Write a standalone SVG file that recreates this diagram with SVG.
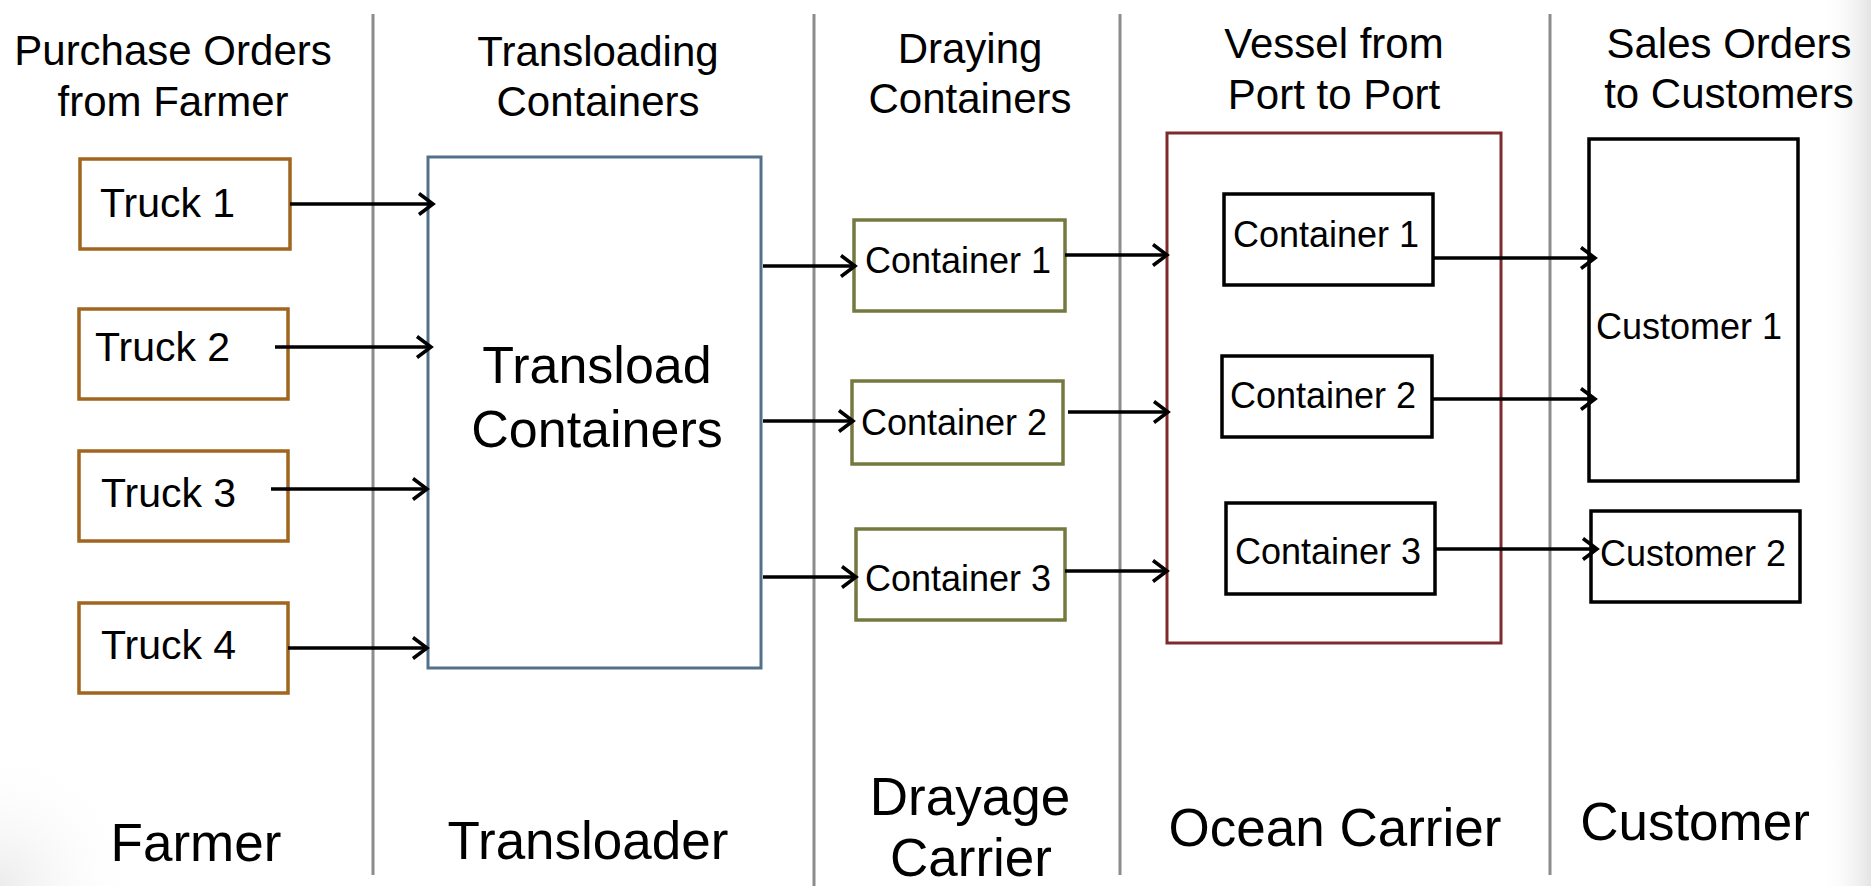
<svg xmlns="http://www.w3.org/2000/svg" width="1871" height="886" viewBox="0 0 1871 886">
<defs>
<style>
text{font-family:"Liberation Sans",Arial,sans-serif;fill:#000}
.hdr{font-size:42px;text-anchor:middle}
.lane{font-size:53px;text-anchor:middle}
.big{font-size:52px;text-anchor:middle}
.truck{font-size:41px}
.cont{font-size:36px}
.div{stroke:#8c8c8c;stroke-width:3;fill:none}
.tb{fill:#fff;stroke:#A0661E;stroke-width:3.5}
.dc{fill:#fff;stroke:#76793F;stroke-width:3.5}
.bk{fill:#fff;stroke:#000;stroke-width:3.5}
.conn line{stroke:#000;stroke-width:3.5;marker-end:url(#ah)}
</style>
<marker id="ah" viewBox="0 0 22 24" refX="19" refY="12" markerWidth="22" markerHeight="24" markerUnits="userSpaceOnUse" orient="auto">
<path d="M5,1.5 L19,12 L5,22.5" fill="none" stroke="#000" stroke-width="3.5"/>
</marker>
<linearGradient id="rg" x1="0" y1="0" x2="1" y2="0">
<stop offset="0" stop-color="#fff" stop-opacity="0"/>
<stop offset="1" stop-color="#e4e4e4"/>
</linearGradient>
<radialGradient id="lg" cx="0" cy="1" r="1">
<stop offset="0" stop-color="#ececec"/>
<stop offset="1" stop-color="#fff" stop-opacity="0"/>
</radialGradient>
</defs>
<rect width="1871" height="886" fill="#fff"/>
<rect x="1820" y="0" width="51" height="886" fill="url(#rg)"/>
<rect x="0" y="746" width="140" height="140" fill="url(#lg)"/>

<g id="dividers">
<line class="div" x1="373" y1="14" x2="373" y2="875"/>
<line class="div" x1="814" y1="14" x2="814" y2="886"/>
<line class="div" x1="1120" y1="14" x2="1120" y2="875"/>
<line class="div" x1="1550" y1="14" x2="1550" y2="875"/>
</g>

<g id="headers">
<text class="hdr" x="173" y="65">Purchase Orders</text>
<text class="hdr" x="173" y="116">from Farmer</text>
<text class="hdr" x="598" y="66">Transloading</text>
<text class="hdr" x="598" y="116">Containers</text>
<text class="hdr" x="970" y="63">Draying</text>
<text class="hdr" x="970" y="113">Containers</text>
<text class="hdr" x="1334" y="58">Vessel from</text>
<text class="hdr" x="1334" y="109">Port to Port</text>
<text class="hdr" x="1729" y="58">Sales Orders</text>
<text class="hdr" x="1729" y="108">to Customers</text>
</g>

<g id="lanes">
<text class="lane" x="196" y="861">Farmer</text>
<text class="lane" x="588" y="859">Transloader</text>
<text class="lane" x="970" y="815">Drayage</text>
<text class="lane" x="971" y="876">Carrier</text>
<text class="lane" x="1335" y="846">Ocean Carrier</text>
<text class="lane" x="1695" y="840">Customer</text>
</g>

<g id="truck1"><rect class="tb" x="80" y="159" width="210" height="90"/><text class="truck" x="100" y="217">Truck 1</text></g>
<g id="truck2"><rect class="tb" x="79" y="309" width="209" height="90"/><text class="truck" x="95" y="361">Truck 2</text></g>
<g id="truck3"><rect class="tb" x="79" y="451" width="209" height="90"/><text class="truck" x="101" y="507">Truck 3</text></g>
<g id="truck4"><rect class="tb" x="79" y="603" width="209" height="90"/><text class="truck" x="101" y="659">Truck 4</text></g>

<g id="transload"><rect x="428" y="157" width="333" height="511" fill="#fff" stroke="#52708A" stroke-width="3"/>
<text class="big" x="597" y="383">Transload</text>
<text class="big" x="597" y="447">Containers</text></g>

<g id="dray1"><rect class="dc" x="854" y="220" width="211" height="91"/><text class="cont" x="865" y="273">Container 1</text></g>
<g id="dray2"><rect class="dc" x="852" y="381" width="211" height="83"/><text class="cont" x="861" y="435">Container 2</text></g>
<g id="dray3"><rect class="dc" x="856" y="529" width="209" height="91"/><text class="cont" x="865" y="591">Container 3</text></g>

<g id="vessel"><rect x="1167" y="133" width="334" height="510" fill="none" stroke="#7E2A2C" stroke-width="3"/></g>

<g id="ocean1"><rect class="bk" x="1224" y="194" width="209" height="91"/><text class="cont" x="1233" y="247">Container 1</text></g>
<g id="ocean2"><rect class="bk" x="1222" y="356" width="210" height="81"/><text class="cont" x="1230" y="408">Container 2</text></g>
<g id="ocean3"><rect class="bk" x="1226" y="503" width="209" height="91"/><text class="cont" x="1235" y="564">Container 3</text></g>

<g id="customer1"><rect class="bk" x="1589" y="139" width="209" height="342"/><text class="cont" x="1596" y="339">Customer 1</text></g>
<g id="customer2"><rect class="bk" x="1591" y="511" width="209" height="91"/><text class="cont" x="1600" y="566">Customer 2</text></g>

<g id="connectors" class="conn">
<line x1="290" y1="204" x2="433" y2="204"/>
<line x1="275" y1="347" x2="431" y2="347"/>
<line x1="271" y1="489" x2="427" y2="489"/>
<line x1="288" y1="648" x2="427" y2="648"/>
<line x1="763" y1="266" x2="855" y2="266"/>
<line x1="763" y1="421" x2="853" y2="421"/>
<line x1="763" y1="577" x2="856" y2="577"/>
<line x1="1065" y1="255" x2="1167" y2="255"/>
<line x1="1068" y1="412" x2="1168" y2="412"/>
<line x1="1065" y1="571" x2="1167" y2="571"/>
<line x1="1433" y1="258" x2="1595" y2="258"/>
<line x1="1432" y1="399" x2="1595" y2="399"/>
<line x1="1435" y1="549" x2="1597" y2="549"/>
</g>
</svg>
